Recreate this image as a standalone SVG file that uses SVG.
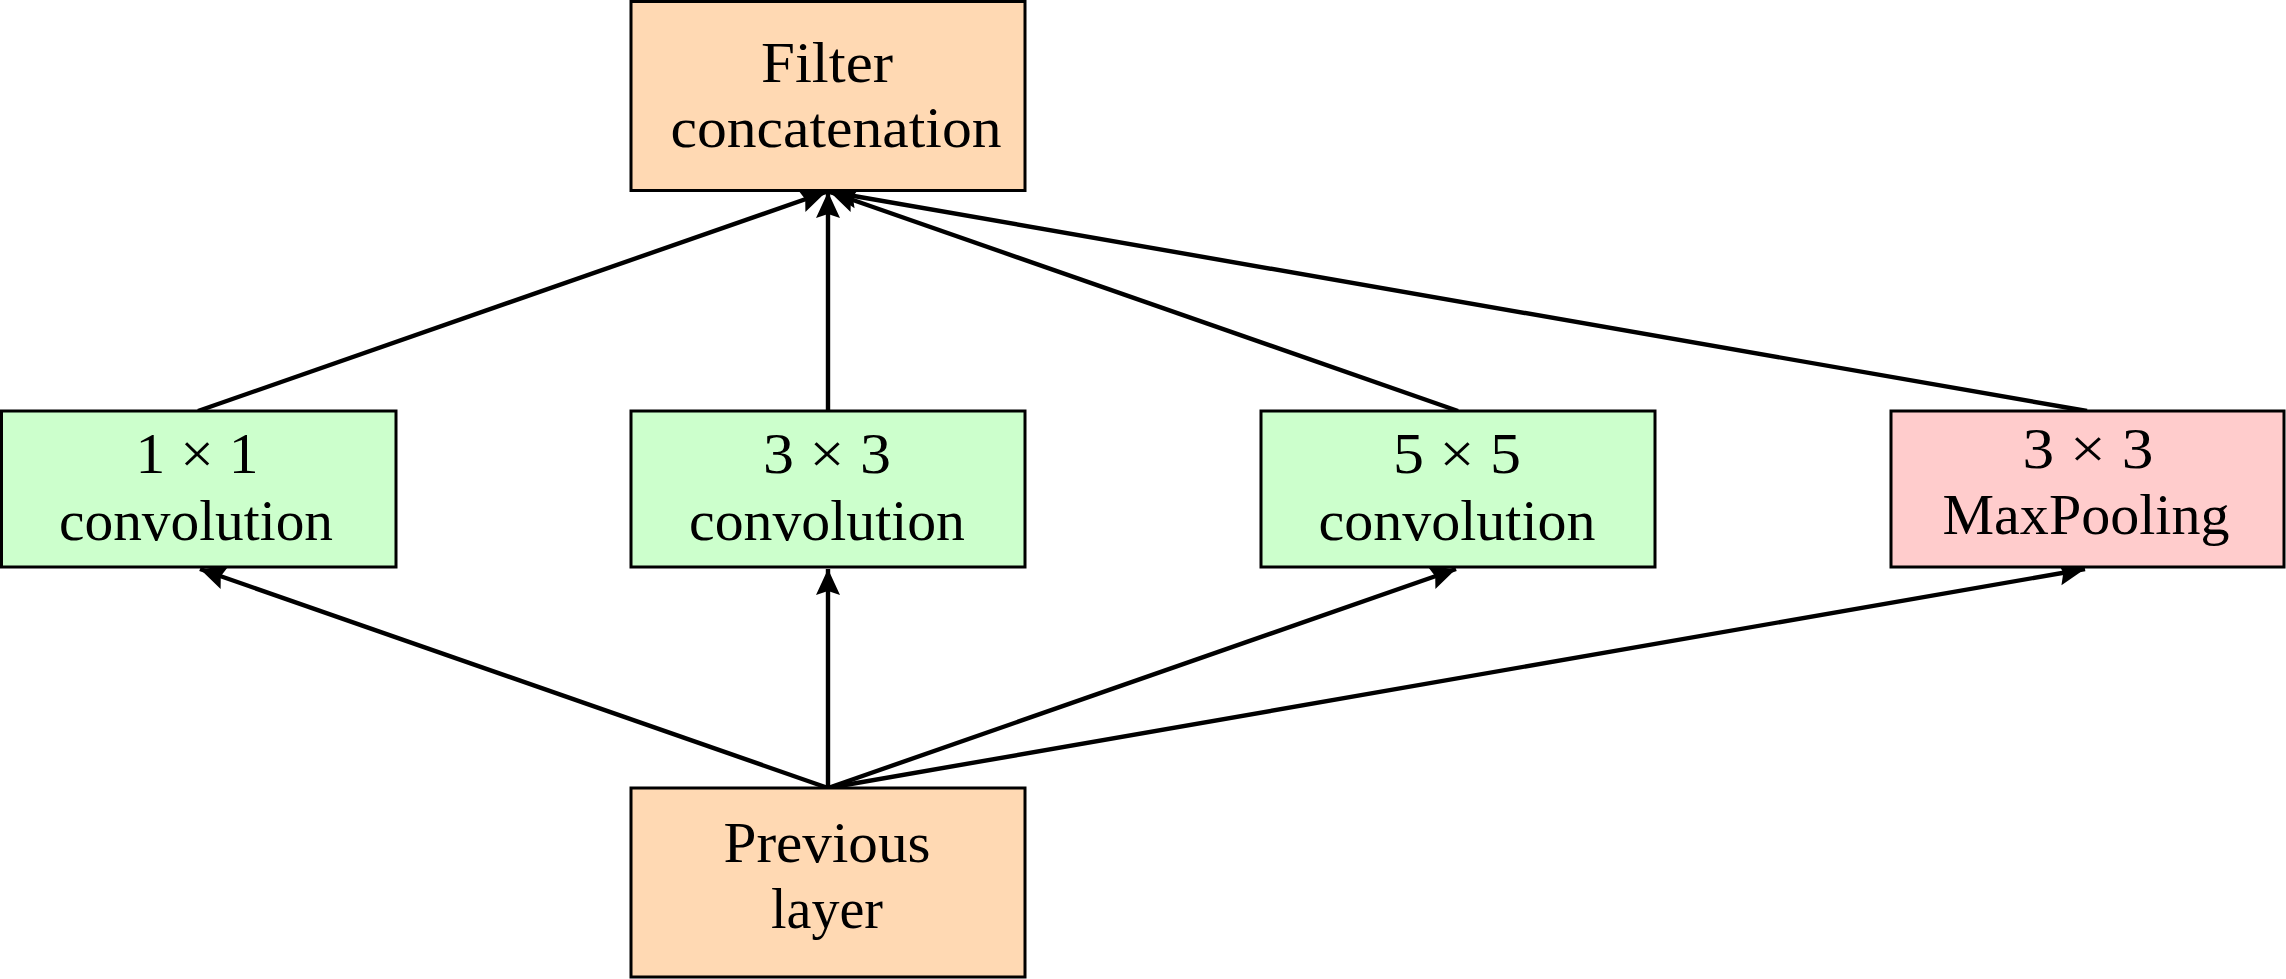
<svg xmlns="http://www.w3.org/2000/svg" width="2286" height="979" viewBox="0 0 2286 979">
<style>
.box{stroke:#000;stroke-width:3}
.peach{fill:#FFD9B3}
.green{fill:#CCFFCC}
.red{fill:#FFCCCC}
text{font-family:"Liberation Serif","Times New Roman",serif;font-size:56px;fill:#000;text-anchor:middle}
.edge{stroke:#000;stroke-width:4.4;fill:none;marker-end:url(#ah)}
</style>
<defs>
<marker id="ah" markerUnits="userSpaceOnUse" markerWidth="40" markerHeight="40" refX="30" refY="20" orient="auto" overflow="visible">
<path d="M30,20 L4,8 L8,20 L4,32 Z" fill="#000"/>
</marker>
</defs>
<g id="connectors">
<line class="edge" x1="198" y1="411" x2="826" y2="192"/>
<line class="edge" x1="828" y1="411" x2="828" y2="192"/>
<line class="edge" x1="1458" y1="411" x2="830" y2="192"/>
<line class="edge" x1="2087" y1="411" x2="831" y2="192"/>
<line class="edge" x1="828" y1="788" x2="200" y2="569"/>
<line class="edge" x1="828" y1="788" x2="828" y2="569"/>
<line class="edge" x1="828" y1="788" x2="1456" y2="569"/>
<line class="edge" x1="828" y1="788" x2="2085" y2="569"/>
</g>
<g id="filter-concat">
<rect class="box peach" x="631" y="1.5" width="394" height="189"/>
<text x="827" y="82" textLength="132" lengthAdjust="spacingAndGlyphs">Filter</text>
<text x="836" y="147" textLength="331" lengthAdjust="spacingAndGlyphs">concatenation</text>
</g>
<g id="conv1x1">
<rect class="box green" x="1.5" y="411" width="394.5" height="156"/>
<text x="197" y="473" textLength="123" lengthAdjust="spacingAndGlyphs">1 × 1</text>
<text x="196" y="540" textLength="274" lengthAdjust="spacingAndGlyphs">convolution</text>
</g>
<g id="conv3x3">
<rect class="box green" x="631" y="411" width="394" height="156"/>
<text x="827" y="473" textLength="128" lengthAdjust="spacingAndGlyphs">3 × 3</text>
<text x="827" y="540" textLength="276" lengthAdjust="spacingAndGlyphs">convolution</text>
</g>
<g id="conv5x5">
<rect class="box green" x="1261" y="411" width="394" height="156"/>
<text x="1457" y="473" textLength="128" lengthAdjust="spacingAndGlyphs">5 × 5</text>
<text x="1457" y="540" textLength="277" lengthAdjust="spacingAndGlyphs">convolution</text>
</g>
<g id="maxpool">
<rect class="box red" x="1891" y="411" width="393" height="156"/>
<text x="2088" y="468" textLength="131" lengthAdjust="spacingAndGlyphs">3 × 3</text>
<text x="2086" y="534" textLength="287" lengthAdjust="spacingAndGlyphs">MaxPooling</text>
</g>
<g id="previous-layer">
<rect class="box peach" x="631" y="788" width="394" height="189"/>
<text x="827" y="862" textLength="207" lengthAdjust="spacingAndGlyphs">Previous</text>
<text x="827" y="928" textLength="112" lengthAdjust="spacingAndGlyphs">layer</text>
</g>
</svg>
